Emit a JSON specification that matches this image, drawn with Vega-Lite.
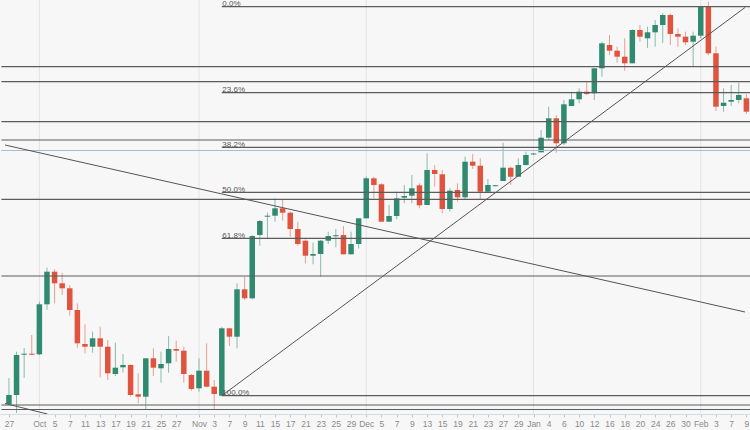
{
  "$schema": "https://vega.github.io/schema/vega-lite/v6.json",
  "width": 750,
  "height": 414,
  "autosize": {"type": "none"},
  "padding": {"left": 0, "right": 0, "top": 0, "bottom": 16},
  "background": "#f7f7f7",
  "config": {"view": {"stroke": null, "fill": "#f7f7f7"}, "font": "Liberation Sans"},
  "datasets": {
    "candles": [
      {"i":0,"o":10,"h":36,"l":9,"c":19},
      {"i":1,"o":19,"h":62.3,"l":1,"c":59},
      {"i":2,"o":59.3,"h":66,"l":36,"c":60.3},
      {"i":3,"o":60.3,"h":79,"l":59,"c":59.3},
      {"i":4,"o":59.7,"h":112.3,"l":59,"c":109.7},
      {"i":5,"o":109.7,"h":146.3,"l":104,"c":142.3},
      {"i":6,"o":142.3,"h":144.7,"l":110.7,"c":130.7},
      {"i":7,"o":130.7,"h":141.3,"l":119,"c":125.7},
      {"i":8,"o":125.7,"h":129,"l":98.3,"c":104},
      {"i":9,"o":104,"h":110.7,"l":66.3,"c":70.7},
      {"i":10,"o":70,"h":89.7,"l":60.7,"c":67.3},
      {"i":11,"o":67.3,"h":82.3,"l":61.3,"c":75.7},
      {"i":12,"o":75.7,"h":87.3,"l":36.7,"c":67.3},
      {"i":13,"o":67.3,"h":74,"l":34,"c":40.7},
      {"i":14,"o":40,"h":71.3,"l":38,"c":46.3},
      {"i":15,"o":46.7,"h":60,"l":41.3,"c":49},
      {"i":16,"o":49,"h":49.7,"l":17.3,"c":19},
      {"i":17,"o":19.7,"h":40.7,"l":10.7,"c":17.3},
      {"i":18,"o":17.3,"h":55.7,"l":4,"c":55.7},
      {"i":19,"o":55.7,"h":65.7,"l":38,"c":46.3},
      {"i":20,"o":45.7,"h":62.3,"l":31.3,"c":50},
      {"i":21,"o":50.7,"h":78,"l":41.3,"c":65},
      {"i":22,"o":65,"h":73.3,"l":52.3,"c":63.3},
      {"i":23,"o":63.3,"h":67.3,"l":31.3,"c":40},
      {"i":24,"o":39,"h":40,"l":23.3,"c":25},
      {"i":25,"o":25.7,"h":55.7,"l":22.3,"c":43.3},
      {"i":26,"o":43.3,"h":70.7,"l":26.7,"c":27.3},
      {"i":27,"o":27.3,"h":34,"l":4,"c":20},
      {"i":28,"o":18.3,"h":87.3,"l":18.3,"c":85.7},
      {"i":29,"o":85.7,"h":85.7,"l":68,"c":77.3},
      {"i":30,"o":77.3,"h":130.7,"l":65.7,"c":124.7},
      {"i":31,"o":124.7,"h":137.3,"l":114,"c":115.7},
      {"i":32,"o":115.7,"h":179,"l":114.7,"c":178},
      {"i":33,"o":179,"h":194,"l":168.3,"c":193},
      {"i":34,"o":197.3,"h":201.3,"l":175.7,"c":198.3},
      {"i":35,"o":198.3,"h":215.7,"l":192.3,"c":205.7},
      {"i":36,"o":205.7,"h":214,"l":193.3,"c":201.3},
      {"i":37,"o":201.3,"h":202.3,"l":177.3,"c":185},
      {"i":38,"o":185,"h":192.3,"l":168.3,"c":170},
      {"i":39,"o":173.3,"h":174.7,"l":150.7,"c":158.3},
      {"i":40,"o":158.3,"h":171.3,"l":149.7,"c":160},
      {"i":41,"o":160,"h":174,"l":137.3,"c":173.3},
      {"i":42,"o":173.3,"h":182.3,"l":170,"c":178},
      {"i":43,"o":177.8,"h":185,"l":166.7,"c":178.8},
      {"i":44,"o":179,"h":188,"l":159.7,"c":159.7},
      {"i":45,"o":159.7,"h":182.3,"l":159.7,"c":170},
      {"i":46,"o":170,"h":195.7,"l":165.7,"c":195.7},
      {"i":47,"o":195.7,"h":237.3,"l":195.7,"c":235.7},
      {"i":48,"o":235.7,"h":237.3,"l":215.7,"c":229},
      {"i":49,"o":229.7,"h":230.7,"l":192.3,"c":192.3},
      {"i":50,"o":192.3,"h":209,"l":192.3,"c":198},
      {"i":51,"o":198,"h":222.3,"l":194.7,"c":215.7},
      {"i":52,"o":216.3,"h":229,"l":210.7,"c":218},
      {"i":53,"o":218.3,"h":239,"l":210.7,"c":225.7},
      {"i":54,"o":228.7,"h":230.7,"l":205.7,"c":208.7},
      {"i":55,"o":209,"h":260.7,"l":209,"c":244},
      {"i":56,"o":244,"h":249,"l":227.3,"c":240},
      {"i":57,"o":239.7,"h":244,"l":200.7,"c":205},
      {"i":58,"o":205,"h":225.7,"l":202.3,"c":223.3},
      {"i":59,"o":224,"h":230.7,"l":212.3,"c":216.7},
      {"i":60,"o":216.7,"h":257.3,"l":214,"c":252.3},
      {"i":61,"o":252.3,"h":260,"l":245,"c":248.3},
      {"i":62,"o":248.3,"h":255.7,"l":214.7,"c":222.3},
      {"i":63,"o":222.3,"h":235,"l":222.3,"c":229},
      {"i":64,"o":227.8,"h":229,"l":227.5,"c":228.8},
      {"i":65,"o":233,"h":271.3,"l":233,"c":246.3},
      {"i":66,"o":246.3,"h":247.3,"l":229,"c":237.3},
      {"i":67,"o":237.3,"h":255.7,"l":237.3,"c":249},
      {"i":68,"o":249,"h":262.3,"l":248.3,"c":259},
      {"i":69,"o":259.5,"h":261,"l":259,"c":260.5},
      {"i":70,"o":261.7,"h":284,"l":261.7,"c":276.3},
      {"i":71,"o":276.3,"h":307.3,"l":274,"c":295.7},
      {"i":72,"o":295.7,"h":299,"l":261.3,"c":270.7},
      {"i":73,"o":270.7,"h":314,"l":269,"c":309.7},
      {"i":74,"o":308,"h":322.3,"l":308,"c":314.7},
      {"i":75,"o":314.7,"h":325.7,"l":310.7,"c":322.3},
      {"i":76,"o":322.3,"h":332.3,"l":319,"c":320},
      {"i":77,"o":320.7,"h":345.7,"l":314,"c":345.7},
      {"i":78,"o":345.7,"h":372.3,"l":337.3,"c":370.7},
      {"i":79,"o":369,"h":379,"l":359,"c":363.3},
      {"i":80,"o":363.3,"h":367.3,"l":351.3,"c":357.3},
      {"i":81,"o":357.3,"h":375.7,"l":343.3,"c":350.7},
      {"i":82,"o":350.7,"h":384.7,"l":350.7,"c":384},
      {"i":83,"o":384,"h":389,"l":372.3,"c":377.3},
      {"i":84,"o":375.7,"h":387.3,"l":366,"c":381.7},
      {"i":85,"o":381.7,"h":394,"l":367.3,"c":389},
      {"i":86,"o":389,"h":400.7,"l":371,"c":399},
      {"i":87,"o":399,"h":400.7,"l":369,"c":380},
      {"i":88,"o":380,"h":385.7,"l":367.3,"c":377.3},
      {"i":89,"o":377.3,"h":382.3,"l":369,"c":371.7},
      {"i":90,"o":372.3,"h":382.3,"l":348,"c":378.3},
      {"i":91,"o":378.3,"h":407.3,"l":375.7,"c":407.3},
      {"i":92,"o":407.3,"h":412.3,"l":359,"c":360.7},
      {"i":93,"o":360.7,"h":367.3,"l":303,"c":307.3},
      {"i":94,"o":308,"h":325.7,"l":302.3,"c":311.3},
      {"i":95,"o":312.3,"h":329,"l":308,"c":314},
      {"i":96,"o":314,"h":331.3,"l":310.7,"c":319},
      {"i":97,"o":315.7,"h":320,"l":300,"c":302.3}
    ],
    "hgrid": [
      {"v":391.3},{"v":369},{"v":346.5},{"v":324},{"v":301.3},{"v":278.5},{"v":257},{"v":232.5},{"v":208},
      {"v":183.5},{"v":159},{"v":134},{"v":109.5},{"v":84.5},{"v":59.5},{"v":34.5},{"v":9.5}
    ],
    "months": [
      {"i":4,"month":"Oct"},{"i":25,"month":"Nov"},{"i":47,"month":"Dec"},{"i":69,"month":"Jan"},{"i":91,"month":"Feb"}
    ],
    "levels": [
      {"v":347.3,"i":-1,"i2":98,"kind":"level"},
      {"v":332.3,"i":-1,"i2":98,"kind":"level"},
      {"v":292.3,"i":-1,"i2":98,"kind":"level"},
      {"v":274,"i":-1,"i2":98,"kind":"level"},
      {"v":214.7,"i":-1,"i2":98,"kind":"level"},
      {"v":138,"i":-1,"i2":98,"kind":"level"},
      {"v":9,"i":-1,"i2":98,"kind":"level"},
      {"v":4.5,"i":-1,"i2":98,"kind":"level"},
      {"v":263.5,"i":-1,"i2":98,"kind":"price"},
      {"v":407.3,"i":28,"i2":98,"kind":"fib","label":"0.0%"},
      {"v":321.3,"i":28,"i2":98,"kind":"fib","label":"23.6%"},
      {"v":266.7,"i":28,"i2":98,"kind":"fib","label":"38.2%"},
      {"v":221.7,"i":28,"i2":98,"kind":"fib","label":"50.0%"},
      {"v":175.7,"i":28,"i2":98,"kind":"fib","label":"61.8%"},
      {"v":18.3,"i":28,"i2":98,"kind":"fib","label":"100.0%"}
    ],
    "trends": [
      {"line":"down","i":-0.52,"v":269},
      {"line":"down","i":96.82,"v":102},
      {"line":"channel","i":-0.52,"v":10.5},
      {"line":"channel","i":5.06,"v":0},
      {"line":"up","i":28,"v":18.3},
      {"line":"up","i":96.82,"v":406.5}
    ]
  },
  "encoding": {
    "x": {
      "field": "i", "type": "quantitative",
      "scale": {"domain": [-0.52, 96.82], "nice": false, "zero": false},
      "axis": {
        "title": null,
        "grid": false,
        "values": [0,4,6,8,10,12,14,16,18,20,22,25,27,29,31,33,35,37,39,41,43,45,47,49,51,53,55,57,59,61,63,65,67,69,71,73,75,77,79,81,83,85,87,89,91,93,95,97],
        "labelExpr": "datum.value == 0 ? '27' : datum.value == 4 ? 'Oct' : datum.value == 6 ? '5' : datum.value == 8 ? '7' : datum.value == 10 ? '11' : datum.value == 12 ? '13' : datum.value == 14 ? '17' : datum.value == 16 ? '19' : datum.value == 18 ? '21' : datum.value == 20 ? '25' : datum.value == 22 ? '27' : datum.value == 25 ? 'Nov' : datum.value == 27 ? '3' : datum.value == 29 ? '7' : datum.value == 31 ? '9' : datum.value == 33 ? '11' : datum.value == 35 ? '15' : datum.value == 37 ? '17' : datum.value == 39 ? '21' : datum.value == 41 ? '23' : datum.value == 43 ? '25' : datum.value == 45 ? '29' : datum.value == 47 ? 'Dec' : datum.value == 49 ? '5' : datum.value == 51 ? '7' : datum.value == 53 ? '9' : datum.value == 55 ? '13' : datum.value == 57 ? '15' : datum.value == 59 ? '19' : datum.value == 61 ? '21' : datum.value == 63 ? '23' : datum.value == 65 ? '27' : datum.value == 67 ? '29' : datum.value == 69 ? 'Jan' : datum.value == 71 ? '4' : datum.value == 73 ? '6' : datum.value == 75 ? '10' : datum.value == 77 ? '12' : datum.value == 79 ? '16' : datum.value == 81 ? '18' : datum.value == 83 ? '20' : datum.value == 85 ? '24' : datum.value == 87 ? '26' : datum.value == 89 ? '30' : datum.value == 91 ? 'Feb' : datum.value == 93 ? '3' : datum.value == 95 ? '7' : '9'",
        "labelFlush": false, "labelOverlap": false, "labelBound": false,
        "labelFontSize": 8.5, "labelColor": "#8a8a8a", "labelPadding": 2,
        "tickSize": 3, "tickColor": "#c4c4c4", "domainColor": "#d3dbe6"
      }
    }
  },
  "layer": [
    {
      "data": {"name": "hgrid"},
      "mark": {"type": "rule", "color": "#ebebeb", "strokeWidth": 1, "clip": true},
      "encoding": {
        "x": {"datum": -1},
        "x2": {"datum": 98},
        "y": {"field": "v", "type": "quantitative", "scale": {"domain": [0, 414], "nice": false, "zero": false}, "axis": null}
      }
    },
    {
      "data": {"name": "months"},
      "mark": {"type": "rule", "color": "#e3e3e3", "strokeWidth": 1},
      "encoding": {}
    },
    {
      "data": {"name": "candles"},
      "mark": {"type": "rule", "strokeWidth": 1, "opacity": 0.55, "clip": true},
      "encoding": {
        "y": {"field": "l", "type": "quantitative", "axis": null},
        "y2": {"field": "h"},
        "color": {"condition": {"test": "datum.c >= datum.o", "value": "#2f8a6f"}, "value": "#e0533f"}
      }
    },
    {
      "data": {"name": "candles"},
      "mark": {"type": "bar", "size": 5.5, "clip": true},
      "encoding": {
        "y": {"field": "o", "type": "quantitative", "axis": null},
        "y2": {"field": "c"},
        "color": {"condition": {"test": "datum.c >= datum.o", "value": "#2f8a6f"}, "value": "#e0533f"}
      }
    },
    {
      "data": {"name": "levels"},
      "mark": {"type": "rule", "clip": true},
      "encoding": {
        "x2": {"field": "i2"},
        "y": {"field": "v", "type": "quantitative", "axis": null},
        "color": {"condition": {"test": "datum.kind == 'price'", "value": "#a9bad3"}, "value": "#5c5c5c"},
        "strokeWidth": {"condition": {"test": "datum.kind == 'price'", "value": 1}, "value": 1.2}
      }
    },
    {
      "data": {"name": "levels"},
      "transform": [{"filter": "datum.kind == 'fib'"}],
      "mark": {"type": "text", "align": "left", "baseline": "alphabetic", "dx": 0.5, "dy": -0.8, "fontSize": 8, "color": "#555555", "font": "Liberation Sans"},
      "encoding": {
        "y": {"field": "v", "type": "quantitative", "axis": null},
        "text": {"field": "label"}
      }
    },
    {
      "data": {"name": "trends"},
      "mark": {"type": "line", "color": "#555555", "strokeWidth": 1, "clip": true},
      "encoding": {
        "y": {"field": "v", "type": "quantitative", "axis": null},
        "detail": {"field": "line"}
      }
    }
  ]
}
